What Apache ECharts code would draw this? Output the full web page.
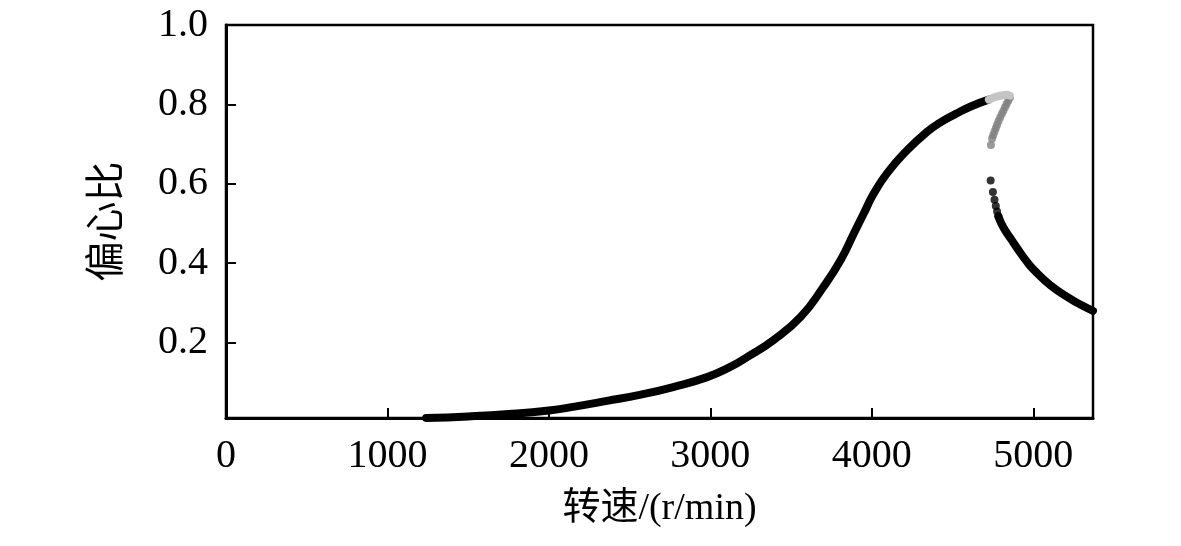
<!DOCTYPE html>
<html>
<head>
<meta charset="utf-8">
<script src="https://cdn.jsdelivr.net/npm/echarts@6/dist/echarts.min.js"></script>
<style>
  html, body { margin: 0; padding: 0; background: #fff; }
  #chart { width: 1181px; height: 546px; }
</style>
</head>
<body>
<div id="chart"></div>
<script>
// 数据
var mainBranch = [
  [1240, 0.010], [1500, 0.014], [1750, 0.020], [2000, 0.029], [2150, 0.038],
  [2360, 0.053], [2570, 0.069], [2770, 0.088], [2980, 0.113], [3120, 0.138],
  [3230, 0.164], [3390, 0.206], [3560, 0.265], [3700, 0.340], [3810, 0.410],
  [3890, 0.476], [3950, 0.525], [4010, 0.574], [4095, 0.627], [4220, 0.685],
  [4340, 0.730], [4430, 0.756], [4520, 0.776], [4620, 0.796], [4725, 0.812]
];
var topBranch = [
  [4725, 0.812], [4760, 0.818], [4800, 0.822], [4835, 0.824], [4855, 0.822]
];
var midDots = [
  [4855, 0.817], [4845, 0.809], [4835, 0.801], [4825, 0.793], [4815, 0.784],
  [4805, 0.776], [4795, 0.767], [4785, 0.758], [4776, 0.749], [4768, 0.740],
  [4760, 0.731], [4752, 0.722], [4745, 0.714], [4738, 0.698]
];
var lowDots = [
  [4736, 0.608], [4750, 0.579], [4760, 0.560], [4768, 0.544], [4776, 0.530],
  [4784, 0.518]
];
var lowBranch = [
  [4784, 0.518], [4800, 0.502], [4830, 0.480], [4860, 0.462], [4900, 0.438],
  [4960, 0.404], [5004, 0.383], [5107, 0.344], [5230, 0.310], [5300, 0.294],
  [5370, 0.280]
];
var xTicks = [0, 1000, 2000, 3000, 4000, 5000];
var yTicks = [0.2, 0.4, 0.6, 0.8, 1.0];

var serif = "'Liberation Serif', 'Times New Roman', 'Noto Sans CJK SC', serif";
var myChart = echarts.init(document.getElementById('chart'));

var option = {
  animation: false,
  backgroundColor: '#fff',
  grid: {
    left: 226, right: 88, top: 25, bottom: 128,
    show: true, borderColor: '#000', borderWidth: 2.5
  },
  xAxis: {
    type: 'value',
    min: 0,
    max: 5370,
    name: '转速/(r/min)',
    nameLocation: 'middle',
    nameGap: 72,
    nameTextStyle: { fontFamily: serif, fontSize: 38, color: '#000' },
    axisLine: { lineStyle: { color: '#000', width: 3 } },
    axisTick: { inside: true, length: 10, customValues: xTicks, lineStyle: { color: '#000', width: 2 } },
    axisLabel: {
      customValues: xTicks, fontFamily: serif, fontSize: 40, color: '#000', margin: 18,
      formatter: function (v) { return String(v); }
    },
    splitLine: { show: false }
  },
  yAxis: {
    type: 'value',
    min: 0.01,
    max: 1.0,
    name: '偏心比',
    nameLocation: 'middle',
    nameRotate: 90,
    nameGap: 98,
    nameTextStyle: { fontFamily: serif, fontSize: 40, color: '#000' },
    axisLine: { lineStyle: { color: '#000', width: 3 } },
    axisTick: { inside: true, length: 10, customValues: yTicks, lineStyle: { color: '#000', width: 2 } },
    axisLabel: {
      customValues: yTicks, fontFamily: serif, fontSize: 40, color: '#000', margin: 18,
      formatter: function (v) { return v.toFixed(1); }
    },
    splitLine: { show: false }
  },
  series: [
    {
      type: 'line', data: mainBranch, smooth: 0.5, showSymbol: false,
      lineStyle: { color: '#000', width: 8, cap: 'round' }
    },
    {
      type: 'line', data: topBranch, smooth: 0.4, showSymbol: false,
      lineStyle: { color: '#c4c4c4', width: 8, cap: 'round' }
    },
    {
      type: 'scatter', data: midDots, symbolSize: 8,
      itemStyle: { color: '#7f7f7f' }
    },
    {
      type: 'scatter', data: lowDots, symbolSize: 8,
      itemStyle: { color: '#000' }
    },
    {
      type: 'line', data: lowBranch, smooth: 0.5, showSymbol: false,
      lineStyle: { color: '#000', width: 8, cap: 'round' }
    }
  ]
};
myChart.setOption(option);
</script>
</body>
</html>
